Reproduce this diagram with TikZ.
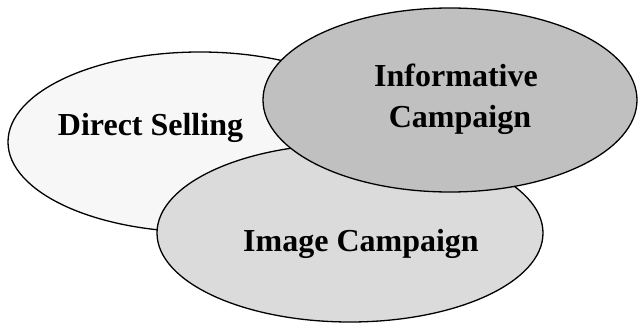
\documentclass[tikz,border=0pt]{standalone}
\usepackage{fontspec}
\setmainfont{Liberation Serif}
\usetikzlibrary{shapes.geometric}
\definecolor{paleGray}{HTML}{F7F7F7}
\definecolor{midGray}{HTML}{DBDBDB}
\definecolor{darkGray}{HTML}{C0C0C0}
\begin{document}
\begin{tikzpicture}[x=1pt,y=-1pt,
	blob/.style={ellipse,draw=black,line width=1.3pt,inner sep=0pt},
	label/.style={font=\fontsize{32}{41}\selectfont\bfseries,anchor=base,inner sep=0pt}]
\useasboundingbox (0,0) rectangle (639,323);
\node[blob, fill=paleGray, minimum width=384pt, minimum height=180pt] (DS) at (200, 142) {};
\node[blob, fill=midGray, minimum width=386pt, minimum height=178pt] (IM) at (350, 233) {};
\node[blob, fill=darkGray, minimum width=374pt, minimum height=184pt] (IN) at (450, 100) {};
\node[label] (tDS) at (150.5, 136) {Direct Selling};
\node[label] (tINa) at (456, 87) {Informative};
\node[label] (tINb) at (460, 128) {Campaign};
\node[label] (tIM) at (361, 251) {Image Campaign};
\end{tikzpicture}
\end{document}
